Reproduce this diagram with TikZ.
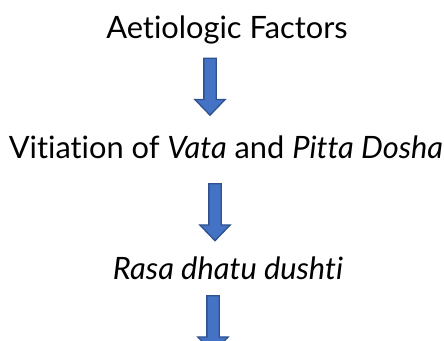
\documentclass[tikz,border=0pt]{standalone}
\usepackage{fontspec}
\setmainfont{Lato}[Ligatures=NoCommon]
\usepackage{xcolor}
\usetikzlibrary{shapes.arrows, positioning}
\definecolor{arrowfill}{HTML}{4472C4}
\definecolor{arrowline}{HTML}{2F528F}
\tikzstyle{stage}    = [font=\fontsize{30.8}{36}\selectfont, anchor=base, inner sep=0pt]
\tikzstyle{downarrow} = [single arrow, draw=arrowline, fill=arrowfill, line width=1.3pt,
                         shape border rotate=270, inner sep=5.5pt, minimum height=57pt,
                         single arrow head extend=9pt, single arrow tip angle=88]

\begin{document}
\begin{tikzpicture}[x=1pt, y=1pt]
    \useasboundingbox (0,0) rectangle (444,340);
    \clip (0,0) rectangle (444,340);

    \node (factors) at (227,301) [stage] {Aetiologic Factors};
    \node (dosha)   at (226,181) [stage] {Vitiation of \textit{Vata} and \textit{Pitta Dosha}};
    \node (rasa)    at (228,60)  [stage] {\textit{Rasa dhatu dushti}};

    \node (arr1) at (210,256.5) [downarrow] {};
    \node (arr2) at (215,131)   [downarrow] {};
    \node (arr3) at (213,19)    [downarrow] {};
\end{tikzpicture}
\end{document}
